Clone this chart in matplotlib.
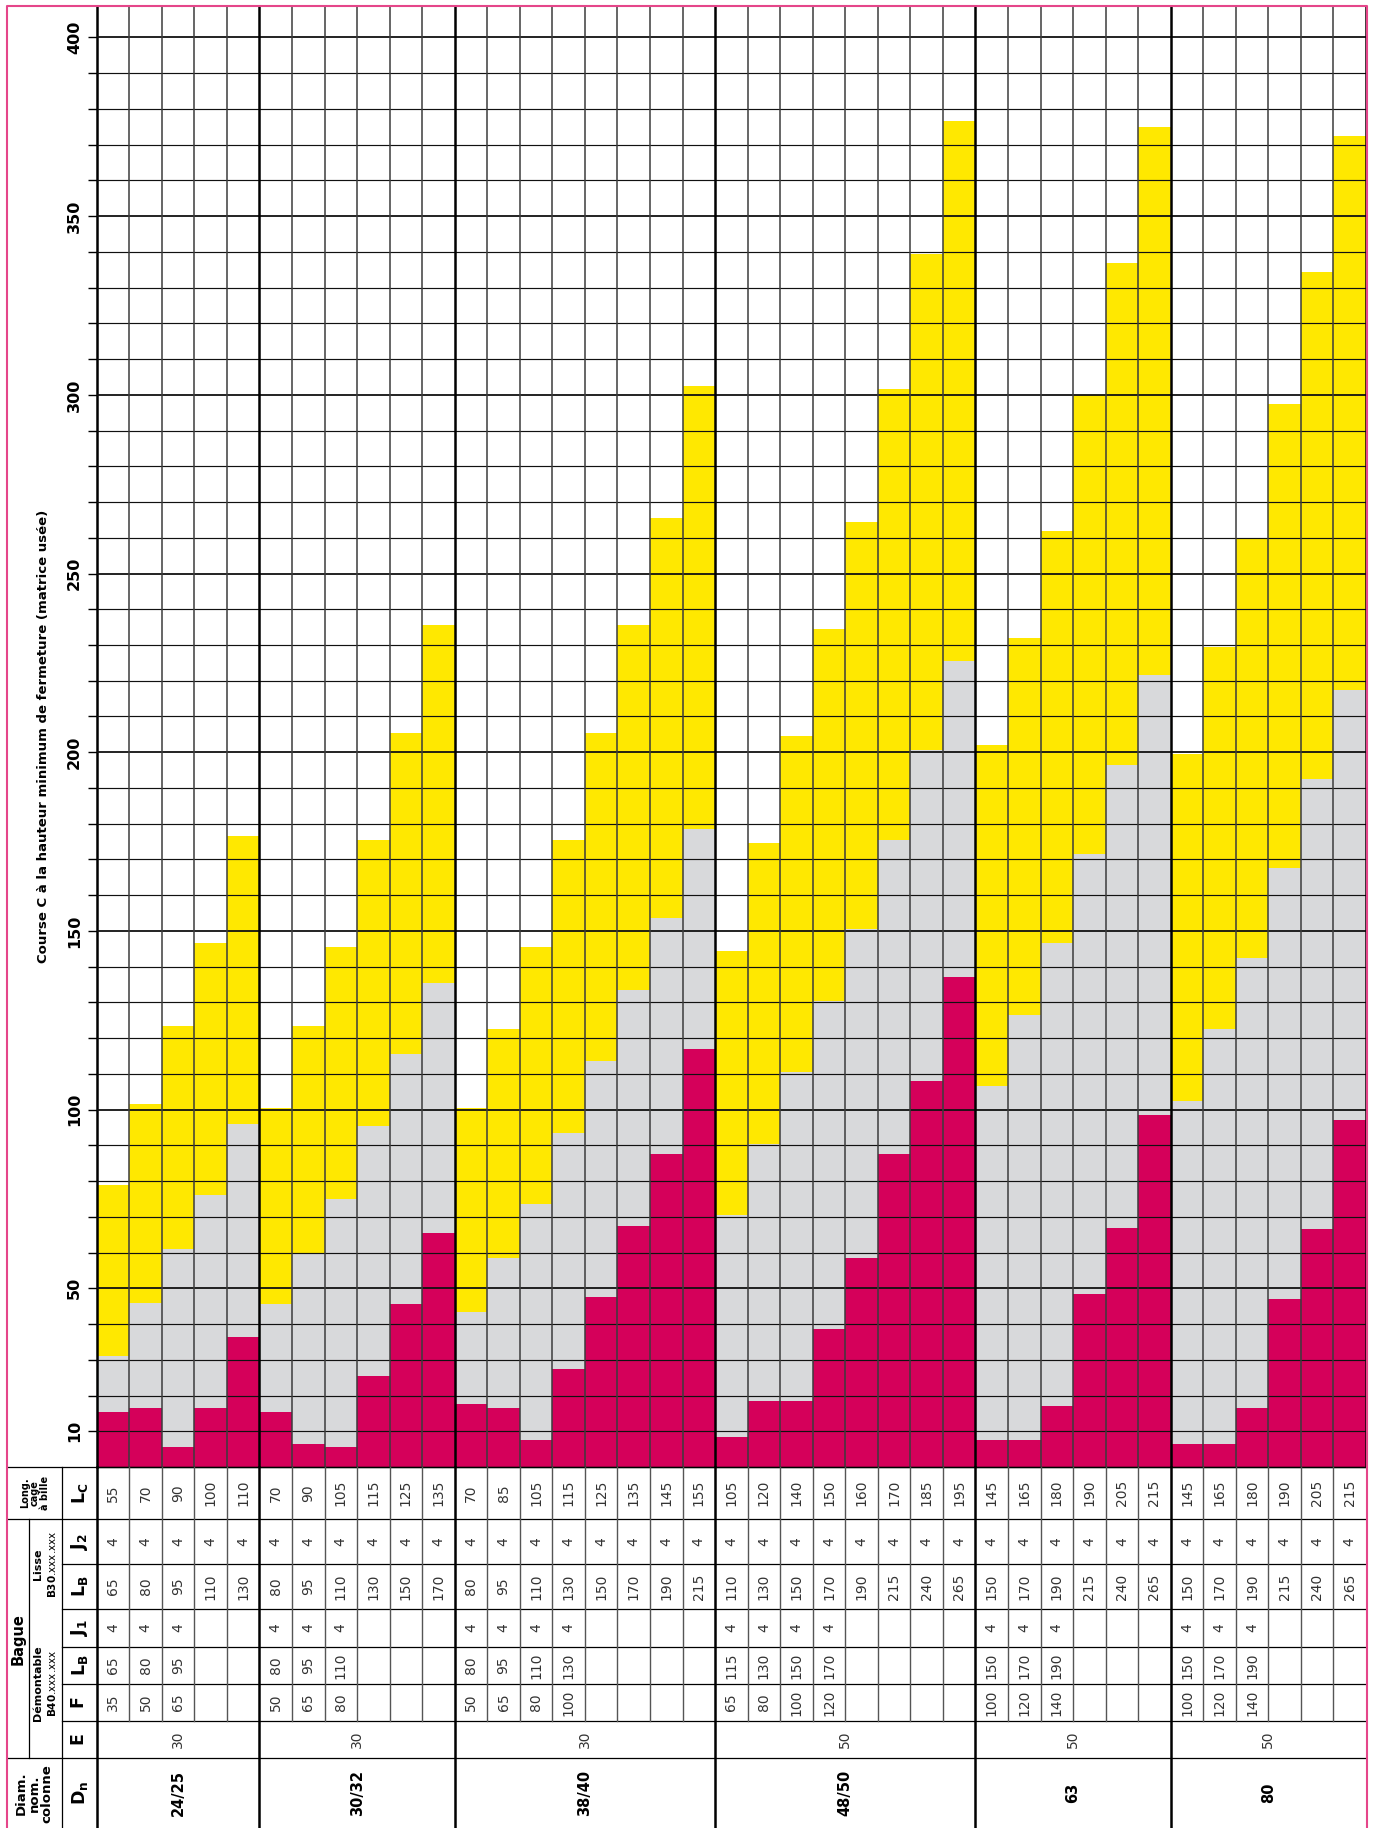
import numpy as np
import matplotlib.pyplot as plt

# column groups (Dn) and their number of bars
groups = ["24/25", "30/32", "38/40", "48/50", "63", "80"]
group_sizes = [5, 6, 8, 8, 6, 6]
e_values = [30, 30, 30, 50, 50, 50]

# course C (three overlapping bars per column)
course_yellow = [79, 101.5, 123.5, 146.5, 176.5,
                 100.5, 123.5, 145.5, 175.5, 205.5, 235.5,
                 100.5, 122.5, 145.5, 175.5, 205.5, 235.5, 265.5, 302.5,
                 144.5, 174.5, 204.5, 234.5, 264.5, 301.5, 339.5, 376.5,
                 202, 232, 262, 300, 337, 375,
                 199.5, 229.5, 260, 297.5, 334.5, 372.5]
course_grey = [31, 46, 61, 76, 96,
               45.5, 60, 75, 95.5, 115.5, 135.5,
               43.5, 58.5, 73.5, 93.5, 113.5, 133.5, 153.5, 178.5,
               70.5, 90.5, 110.5, 130.5, 150.5, 175.5, 200.5, 225.5,
               106.5, 126.5, 146.5, 171.5, 196.5, 221.5,
               102.5, 122.5, 142.5, 167.5, 192.5, 217.5]
course_red = [15.5, 16.5, 5.5, 16.5, 36.5,
              15.5, 6.5, 5.5, 25.5, 45.5, 65.5,
              17.5, 16.5, 7.5, 27.5, 47.5, 67.5, 87.5, 117,
              8.5, 18.5, 18.5, 38.5, 58.5, 87.5, 108, 137,
              7.5, 7.5, 17, 48.5, 67, 98.5,
              6.5, 6.5, 16.5, 47, 66.5, 97]

# table rows
lc = [55, 70, 90, 100, 110,
      70, 90, 105, 115, 125, 135,
      70, 85, 105, 115, 125, 135, 145, 155,
      105, 120, 140, 150, 160, 170, 185, 195,
      145, 165, 180, 190, 205, 215,
      145, 165, 180, 190, 205, 215]
j2 = [4] * 39
lb_lisse = [65, 80, 95, 110, 130,
            80, 95, 110, 130, 150, 170,
            80, 95, 110, 130, 150, 170, 190, 215,
            110, 130, 150, 170, 190, 215, 240, 265,
            150, 170, 190, 215, 240, 265,
            150, 170, 190, 215, 240, 265]
j1 = [4, 4, 4, "", "",
      4, 4, 4, "", "", "",
      4, 4, 4, 4, "", "", "", "",
      4, 4, 4, 4, "", "", "", "",
      4, 4, 4, "", "", "",
      4, 4, 4, "", "", ""]
lb_demont = [65, 80, 95, "", "",
             80, 95, 110, "", "", "",
             80, 95, 110, 130, "", "", "", "",
             115, 130, 150, 170, "", "", "", "",
             150, 170, 190, "", "", "",
             150, 170, 190, "", "", ""]
f_vals = [35, 50, 65, "", "",
          50, 65, 80, "", "", "",
          50, 65, 80, 100, "", "", "", "",
          65, 80, 100, 120, "", "", "", "",
          100, 120, 140, "", "", "",
          100, 120, 140, "", "", ""]

YELLOW = "#ffe800"
GREY = "#d8d9db"
RED = "#d5005a"
PINK = "#e5468a"
TXT = "#333333"

plt.rcParams['font.family'] = ['DejaVu Sans']

W, H = 1375, 1828
X0, X1 = 96.7, 1366.0
Y_TOP, Y_BOT = 6.0, 1467.0
PAGE_L = 7.0
n = len(lc)
unit = (X1 - X0) / n

fig = plt.figure(figsize=(W / 100, H / 100), dpi=100)
ax = fig.add_axes([X0 / W, 1 - Y_BOT / H, (X1 - X0) / W, (Y_BOT - Y_TOP) / H])

x = np.arange(n)
ax.bar(x, course_yellow, width=1, align='edge', color=YELLOW, lw=0, zorder=1)
ax.bar(x, course_grey, width=1, align='edge', color=GREY, lw=0, zorder=1)
ax.bar(x, course_red, width=1, align='edge', color=RED, lw=0, zorder=1)
ax.set_xlim(0, n)
ax.set_ylim(0, 408.8)

bounds = np.cumsum(group_sizes)
for v in range(10, 401, 10):
    ax.axhline(v, color='#111111', lw=1.3 if v % 50 == 0 else 0.85, zorder=3)
for i in range(1, n + 1):
    if i in bounds:
        ax.axvline(i, color='black', lw=1.8, zorder=3)
    else:
        ax.axvline(i, color='#3c3c3c', lw=1.1, zorder=3)

for s in ['top', 'right']:
    ax.spines[s].set_visible(False)
ax.spines['left'].set_linewidth(1.8)
ax.spines['bottom'].set_linewidth(1.0)

ticks = list(range(10, 401, 10))
ax.set_yticks(ticks)
ax.set_yticklabels([str(t) if t == 10 or t % 50 == 0 else "" for t in ticks])
ax.tick_params(axis='y', length=6.5, width=1.0, pad=4, labelsize=11.5, labelrotation=90)
for t in ax.get_yticklabels():
    t.set_fontweight('bold')
    t.set_va('center')
ax.set_xticks([])

fig.text(44 / W, 1 - (Y_TOP + Y_BOT) / 2 / H,
         "Course C à la hauteur minimum de fermeture (matrice usée)",
         rotation=90, ha='center', va='center', fontsize=9.5, fontweight='bold')

# table under the chart
tax = fig.add_axes([PAGE_L / W, 0, (X1 - PAGE_L) / W, (H - Y_BOT) / H])
tax.set_xlim(-(X0 - PAGE_L) / unit, n)
tax.set_ylim(H, Y_BOT)
tax.axis('off')


def hx(px):
    return (px - X0) / unit


ROWS = [1467, 1519.3, 1564, 1609, 1646.7, 1684, 1721, 1758.3, 1828]
row_data = [lc, j2, lb_lisse, j1, lb_demont, f_vals]
for r, vals in enumerate(row_data):
    yc = (ROWS[r] + ROWS[r + 1]) / 2
    for i, v in enumerate(vals):
        if v != "":
            tax.text(i + 0.5, yc, str(v), rotation=90, ha='center', va='center',
                     fontsize=10, color=TXT)

starts = np.concatenate([[0], bounds[:-1]])
for g, name in enumerate(groups):
    xc = starts[g] + group_sizes[g] / 2
    tax.text(xc, (ROWS[6] + ROWS[7]) / 2, str(e_values[g]), rotation=90,
             ha='center', va='center', fontsize=10, color=TXT)
    tax.text(xc, (ROWS[7] + ROWS[8]) / 2, name, rotation=90,
             ha='center', va='center', fontsize=10.5, fontweight='bold')

# table lines
for k, yv in enumerate(ROWS[:-1]):
    x_start = hx(PAGE_L) if k in (0, 1, 7) else hx(61.7)
    tax.plot([x_start, n], [yv, yv], color='black', lw=0.9, clip_on=False)
for i in range(1, n):
    if i in bounds:
        tax.plot([i, i], [ROWS[0], ROWS[8]], color='black', lw=1.8, clip_on=False)
    else:
        tax.plot([i, i], [ROWS[0], ROWS[6]], color='#555555', lw=1.0, clip_on=False)
tax.plot([0, 0], [ROWS[0], ROWS[8]], color='black', lw=1.8, clip_on=False)
tax.plot([hx(61.7)] * 2, [ROWS[0], ROWS[8]], color='black', lw=0.9, clip_on=False)
tax.plot([hx(28.7)] * 2, [ROWS[1], ROWS[7]], color='black', lw=0.9, clip_on=False)

# header column
symbols = [r'$\mathbf{L_C}$', r'$\mathbf{J_2}$', r'$\mathbf{L_B}$', r'$\mathbf{J_1}$',
           r'$\mathbf{L_B}$', r'$\mathbf{F}$', r'$\mathbf{E}$', r'$\mathbf{D_n}$']
for r, sym in enumerate(symbols):
    tax.text(hx(79.5), (ROWS[r] + ROWS[r + 1]) / 2, sym, rotation=90,
             ha='center', va='center', fontsize=12.5)

tax.text(hx(35), (ROWS[0] + ROWS[1]) / 2, "Long.\ncage\nà bille", rotation=90,
         ha='center', va='center', fontsize=7, fontweight='bold', linespacing=0.95)
tax.text(hx(18), (ROWS[1] + ROWS[7]) / 2, "Bague", rotation=90,
         ha='center', va='center', fontsize=10.5, fontweight='bold')
tax.text(hx(38), (ROWS[1] + ROWS[3]) / 2, "Lisse", rotation=90,
         ha='center', va='center', fontsize=8, fontweight='bold')
tax.text(hx(52.5), (ROWS[1] + ROWS[3]) / 2, r"$\mathbf{B30}$.xxx.xxx", rotation=90,
         ha='center', va='center', fontsize=7.5)
tax.text(hx(38), (ROWS[3] + ROWS[7]) / 2, "Démontable", rotation=90,
         ha='center', va='center', fontsize=8, fontweight='bold')
tax.text(hx(52.5), (ROWS[3] + ROWS[7]) / 2, r"$\mathbf{B40}$.xxx.xxx", rotation=90,
         ha='center', va='center', fontsize=7.5)
tax.text(hx(34), (ROWS[7] + ROWS[8]) / 2, "Diam.\nnom.\ncolonne", rotation=90,
         ha='center', va='center', fontsize=9.5, fontweight='bold', linespacing=0.95)

# pink page frame
fig.add_artist(plt.Line2D([PAGE_L / W, PAGE_L / W, 1367 / W, 1367 / W],
                          [0, 1 - Y_TOP / H, 1 - Y_TOP / H, 0],
                          transform=fig.transFigure, color=PINK, lw=1.5))

fig.savefig("out.png", dpi=100)
